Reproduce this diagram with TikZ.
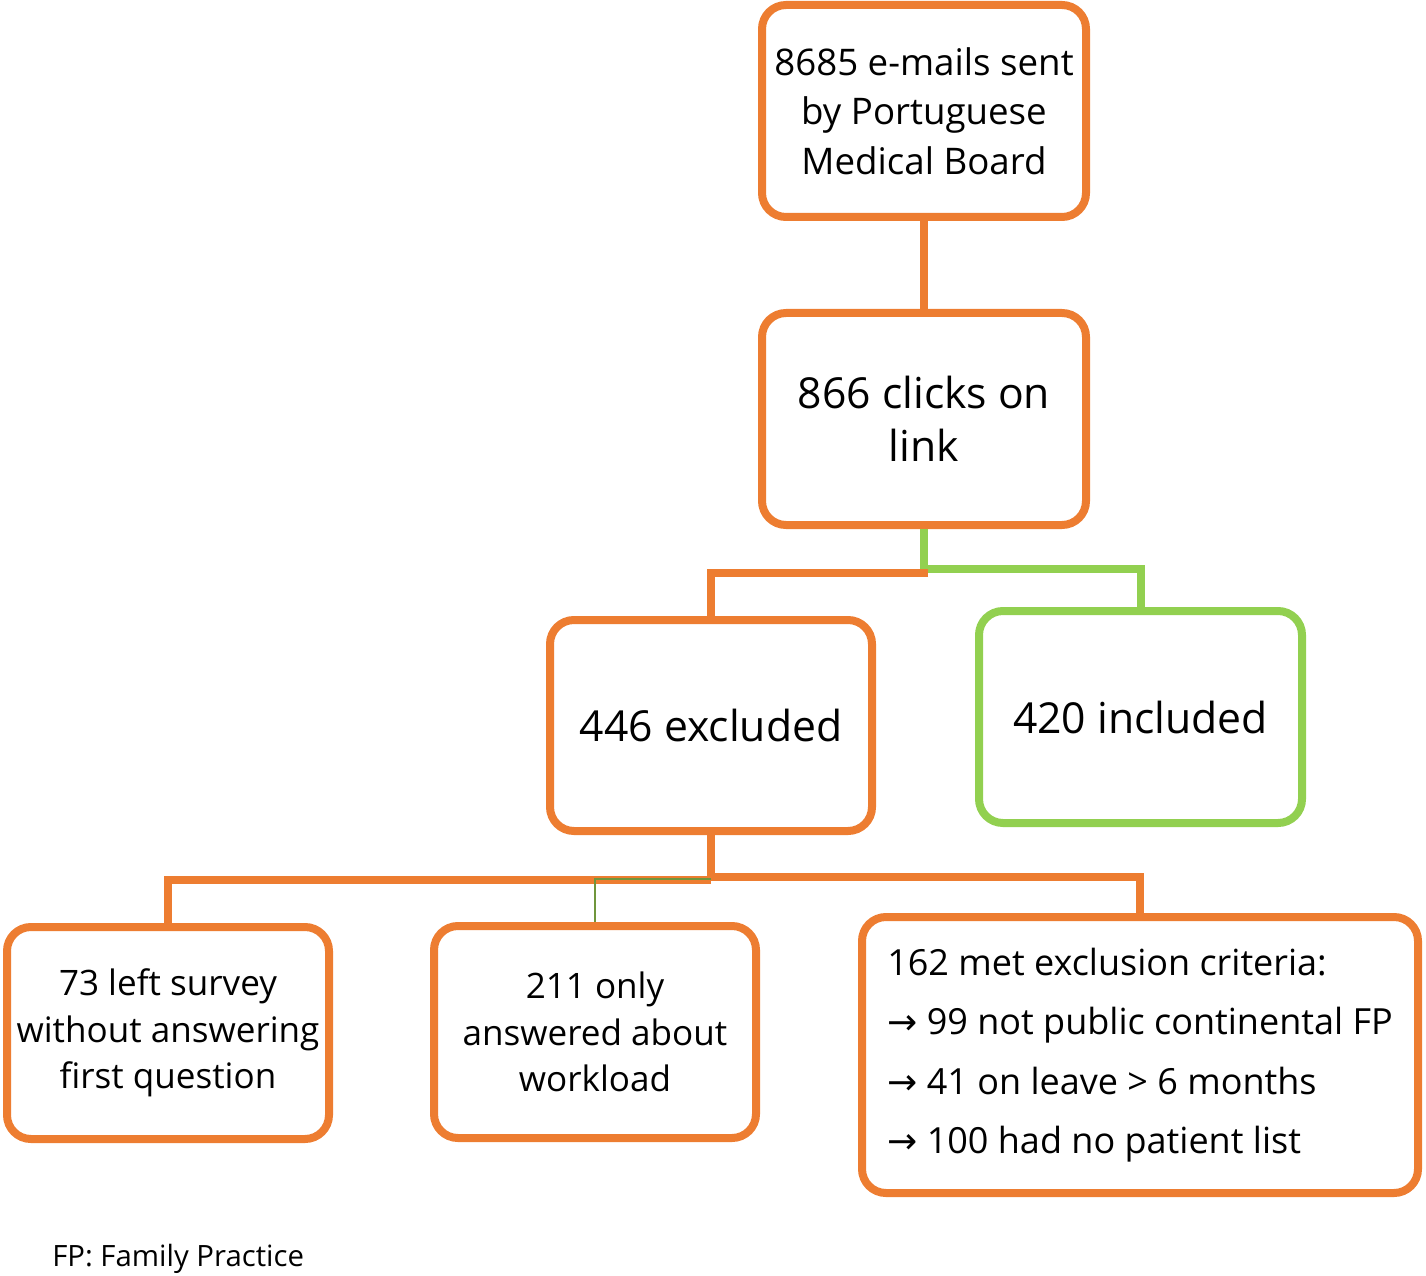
\documentclass[tikz,border=0pt]{standalone}
\usepackage{fontspec}
\setmainfont{Open Sans}
\newfontfamily\arrowfont{DejaVu Sans}
\newcommand{\rarr}{{\arrowfont →}}
\definecolor{orng}{HTML}{ED7D31}
\definecolor{lgrn}{HTML}{92D050}
\definecolor{dgrn}{HTML}{70963C}
\begin{document}
\begin{tikzpicture}[x=0.75pt,y=-0.75pt,
  box/.style={draw=orng,line width=6pt,rounded corners=18pt,inner sep=0pt,align=center,fill=white},
  gbox/.style={box,draw=lgrn},
  oline/.style={draw=orng,line width=6pt},
  gline/.style={draw=lgrn,line width=6pt},
  tline/.style={draw=dgrn,line width=2.2pt},
  topf/.style={font=\fontsize{27.5}{37}\selectfont},
  small/.style={font=\fontsize{26.3}{34.8}\selectfont},
  big/.style={font=\fontsize{32}{39.5}\selectfont},
  crit/.style={font=\fontsize{27}{44.5}\selectfont}]
\useasboundingbox (0,0) rectangle (1426,1276);
\node[box,topf,minimum width=324*0.75pt,minimum height=212*0.75pt] (A) at (924,111) {8685 e-mails sent\\by Portuguese\\Medical Board};
\node[box,big,minimum width=324*0.75pt,minimum height=212*0.75pt] (B) at (924,419) {866 clicks on\\link};
\node[box,big,minimum width=322*0.75pt,minimum height=211*0.75pt] (C) at (711,725.5) {446 excluded};
\node[gbox,big,minimum width=323*0.75pt,minimum height=212*0.75pt] (D) at (1140.5,717) {420 included};
\node[box,small,minimum width=322*0.75pt,minimum height=212*0.75pt] (E) at (168,1033) {73 left survey\\without answering\\first question};
\node[box,small,minimum width=322*0.75pt,minimum height=212*0.75pt] (F) at (595,1032) {211 only\\answered about\\workload};
\node[box,crit,minimum width=556*0.75pt,minimum height=276*0.75pt,align=left] (G) at (1140,1055) {162 met exclusion criteria:\\\rarr{} 99 not public continental FP\\\rarr{} 41 on leave > 6 months\\\rarr{} 100 had no patient list};
\node[anchor=west,font=\fontsize{22}{26}\selectfont,inner sep=0pt] (N) at (52,1259) {FP: Family Practice};
\coordinate (j1) at (924,569);
\coordinate (j2) at (928,573);
\coordinate (j3) at (711,877);
\coordinate (j4) at (711,880);
\coordinate (j5) at (711,879);
\draw[oline] (A.south) -- (B.north);
\draw[gline] (B.south) -- (j1) -| (D.north);
\draw[oline] (j2) -| (C.north);
\draw[oline] (C.south) -- (j3) -| (G.north);
\draw[oline] (j4) -| (E.north);
\draw[tline] (j5) -| (F.north);
\end{tikzpicture}
\end{document}
